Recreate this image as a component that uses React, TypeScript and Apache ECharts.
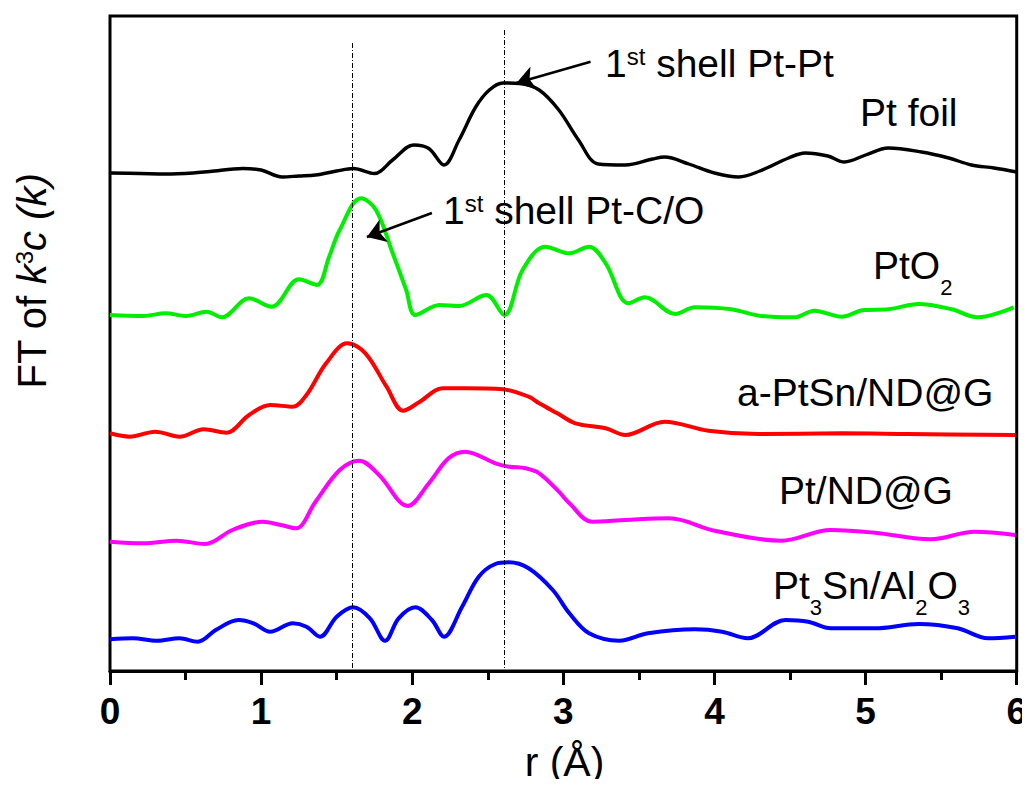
import React, { useEffect, useRef } from "react";
import * as echarts from "echarts";

// ---- data (r in Å, intensity in arbitrary units, stacked offsets included) ----
const foilR = [0, 0.2, 0.37, 0.55, 0.66, 0.88, 1.0, 1.14, 1.25, 1.36, 1.5, 1.61, 1.75, 1.87, 2.01, 2.11, 2.21, 2.31, 2.42, 2.51, 2.6, 2.71, 2.84, 2.97, 3.1, 3.23, 3.41, 3.59, 3.67, 3.83, 4.0, 4.16, 4.3, 4.49, 4.6, 4.75, 4.86, 5.0, 5.15, 5.37, 5.55, 5.7, 5.85, 6.0];
const foilV = [49.8, 49.75, 49.7, 49.8, 49.95, 50.25, 50.1, 49.4, 49.5, 49.6, 50.0, 50.25, 49.75, 51.1, 52.6, 52.25, 50.6, 53.1, 56.4, 58.1, 58.8, 58.75, 58.1, 56.1, 53.1, 50.7, 50.6, 51.2, 51.4, 50.7, 49.8, 49.4, 50.0, 51.3, 51.8, 51.5, 50.9, 51.6, 52.3, 51.9, 51.3, 50.6, 50.3, 49.9];

const pto2R = [0, 0.22, 0.37, 0.5, 0.64, 0.74, 0.92, 1.07, 1.25, 1.37, 1.45, 1.52, 1.66, 1.76, 1.87, 1.96, 2.02, 2.18, 2.31, 2.49, 2.61, 2.73, 2.88, 3.04, 3.17, 3.28, 3.43, 3.54, 3.74, 3.87, 4.11, 4.31, 4.53, 4.66, 4.84, 4.99, 5.15, 5.35, 5.57, 5.74, 5.98];
const pto2V = [35.6, 35.5, 35.77, 35.5, 35.93, 35.37, 37.27, 36.43, 39.17, 38.6, 41.43, 44.1, 47.27, 46.1, 41.8, 38.1, 35.6, 36.6, 36.5, 37.6, 35.6, 40.1, 42.43, 41.77, 42.43, 40.77, 36.77, 37.37, 35.7, 36.37, 36.17, 35.5, 35.37, 36.03, 35.43, 36.1, 36.17, 36.7, 36.17, 35.37, 36.37];

const aPtSnR = [0, 0.13, 0.3, 0.46, 0.62, 0.77, 0.92, 1.06, 1.21, 1.3, 1.43, 1.57, 1.69, 1.83, 1.94, 2.05, 2.2, 2.35, 2.6, 2.77, 2.84, 2.96, 3.08, 3.28, 3.41, 3.67, 3.96, 4.29, 4.84, 5.28, 5.99];
const aPtSnV = [23.77, 23.43, 23.93, 23.43, 24.17, 23.83, 25.6, 26.6, 26.43, 27.6, 30.77, 32.77, 31.77, 28.43, 26.03, 26.93, 28.27, 28.27, 28.17, 27.43, 26.77, 25.77, 24.77, 24.27, 23.6, 24.93, 24.03, 23.7, 23.77, 23.7, 23.6];

const ptNdR = [0, 0.22, 0.44, 0.63, 0.81, 1.01, 1.13, 1.23, 1.36, 1.52, 1.65, 1.78, 1.97, 2.11, 2.24, 2.35, 2.55, 2.64, 2.75, 2.84, 2.97, 3.04, 3.19, 3.41, 3.7, 4.0, 4.44, 4.77, 5.06, 5.43, 5.72, 5.99];
const ptNdV = [12.93, 12.77, 13.03, 12.7, 14.1, 14.93, 14.6, 14.27, 16.93, 20.1, 21.03, 19.6, 16.5, 18.77, 21.27, 21.93, 20.77, 20.43, 20.27, 19.77, 17.93, 16.77, 14.93, 15.1, 15.27, 14.03, 13.03, 14.1, 13.83, 13.17, 13.93, 13.6];

const pt3SnR = [0, 0.15, 0.31, 0.46, 0.58, 0.7, 0.85, 0.95, 1.06, 1.21, 1.3, 1.39, 1.5, 1.61, 1.72, 1.82, 1.91, 2.02, 2.13, 2.21, 2.33, 2.44, 2.55, 2.64, 2.77, 2.93, 3.04, 3.17, 3.37, 3.56, 3.87, 4.05, 4.22, 4.47, 4.62, 4.77, 5.06, 5.35, 5.61, 5.81, 5.99];
const pt3SnV = [3.17, 3.27, 3.03, 3.27, 2.93, 4.1, 5.1, 4.77, 3.93, 4.77, 4.43, 3.43, 5.43, 6.37, 5.27, 3.03, 5.27, 6.37, 5.1, 3.43, 6.43, 9.43, 10.7, 10.87, 10.27, 8.1, 5.77, 3.77, 3.03, 3.77, 4.17, 3.93, 3.27, 5.1, 4.93, 4.27, 4.27, 4.7, 4.27, 3.27, 3.43];

const seriesNames = ["Pt foil", "PtO2", "a-PtSn/ND@G", "Pt/ND@G", "Pt3Sn/Al2O3"];
const xTickLabels = ["0", "1", "2", "3", "4", "5", "6"];

// reference shell positions (Å) and the heights where the guide lines start
const shellR = [1.6, 2.61];
const shellTop = [62.8, 64.1];

// annotation arrows: [fromR, fromV, toR, toV]
const arrowPtPt = [3.18, 60.93, 2.69, 58.8];
const arrowPtCO = [2.13, 45.8, 1.7, 43.4];

const FF = "'Liberation Sans', Arial, sans-serif";

const zip = (r: number[], v: number[]) => r.map((x, i) => [x, v[i]]);

const mainTok = { fontSize: 39, lineHeight: 44, verticalAlign: "top", fontFamily: FF, fill: "#000" };
const supTok = { fontSize: 24, lineHeight: 25, verticalAlign: "top", fontFamily: FF, fill: "#000" };
const subTok = { fontSize: 22, lineHeight: 52, verticalAlign: "bottom", fontFamily: FF, fill: "#000" };

function label(x: number, capMid: number, text: string) {
  return {
    type: "text",
    x,
    y: capMid - 22,
    silent: true,
    style: {
      text,
      align: "left",
      verticalAlign: "top",
      rich: { n: mainTok, s: supTok, b: subTok },
    },
  };
}

export default function App() {
  const ref = useRef<HTMLDivElement>(null);
  useEffect(() => {
    if (!ref.current) return;
    const chart = echarts.init(ref.current, undefined, { renderer: "svg" });
    const colors = ["#000000", "#00ee00", "#ff0000", "#ff00ff", "#0000ff"];
    const datasets = [
      zip(foilR, foilV),
      zip(pto2R, pto2V),
      zip(aPtSnR, aPtSnV),
      zip(ptNdR, ptNdV),
      zip(pt3SnR, pt3SnV),
    ];
    const guideStyle = { color: "#000", width: 1, type: [5, 2, 1, 2] };
    const arrowStyle = { color: "#000", width: 2.5, type: "solid" };
    const series: any[] = datasets.map((d, i) => ({
      name: seriesNames[i],
      type: "line",
      data: d,
      smooth: 0.35,
      symbol: "none",
      lineStyle: { color: colors[i], width: i === 0 ? 3.4 : 4 },
      z: 3,
    }));
    series.push({
      name: "annotations",
      type: "line",
      data: [],
      symbol: "none",
      z: 2,
      markLine: {
        silent: true,
        animation: false,
        symbol: ["none", "none"],
        symbolSize: 18,
        label: { show: false },
        emphasis: { disabled: true },
        data: [
          ...shellR.map((r, i) => [
            { coord: [r, shellTop[i]], lineStyle: guideStyle, symbol: "none" },
            { coord: [r, 0], symbol: "none" },
          ]),
          [
            { coord: [arrowPtPt[0], arrowPtPt[1]], lineStyle: arrowStyle, symbol: "none" },
            { coord: [arrowPtPt[2], arrowPtPt[3]], symbol: "arrow", symbolSize: 18 },
          ],
          [
            { coord: [arrowPtCO[0], arrowPtCO[1]], lineStyle: arrowStyle, symbol: "none" },
            { coord: [arrowPtCO[2], arrowPtCO[3]], symbol: "arrow", symbolSize: 18 },
          ],
        ],
      },
    });

    chart.setOption({
      animation: false,
      backgroundColor: "#ffffff",
      grid: {
        left: 110,
        right: 11,
        top: 16,
        bottom: 116,
        show: true,
        borderColor: "#000",
        borderWidth: 3,
        backgroundColor: "transparent",
      },
      xAxis: {
        type: "value",
        min: 0,
        max: 6,
        interval: 1,
        axisLine: { show: true, lineStyle: { color: "#000", width: 3 } },
        axisTick: { show: true, inside: false, length: 14, lineStyle: { color: "#000", width: 3 } },
        minorTick: { show: true, splitNumber: 2, length: 9, lineStyle: { color: "#000", width: 3 } },
        splitLine: { show: false },
        minorSplitLine: { show: false },
        axisLabel: {
          margin: 22,
          color: "#000",
          fontSize: 37,
          fontWeight: "bold",
          fontFamily: FF,
          formatter: (v: number) => xTickLabels[Math.round(v)] ?? "",
        },
      },
      yAxis: {
        type: "value",
        min: 0,
        max: 65.5,
        show: false,
        splitLine: { show: false },
      },
      series,
      graphic: [
        label(605, 66, "{n|1}{s|st}{n| shell Pt-Pt}"),
        label(443, 213, "{n|1}{s|st}{n| shell Pt-C/O}"),
        label(860, 115, "{n|Pt foil}"),
        label(873, 268, "{n|PtO}{b|2}"),
        label(737, 395, "{n|a-PtSn/ND@G}"),
        label(779, 493, "{n|Pt/ND@G}"),
        label(773, 588, "{n|Pt}{b|3}{n|Sn/Al}{b|2}{n|O}{b|3}"),
        {
          type: "text",
          x: 564.5,
          y: 762,
          silent: true,
          style: {
            text: "r (Å)",
            fontSize: 41,
            fontFamily: FF,
            fill: "#000",
            align: "center",
            verticalAlign: "middle",
          },
        },
        {
          type: "text",
          x: 35,
          y: 281,
          rotation: Math.PI / 2,
          silent: true,
          style: {
            text: "{n|FT of }{i|k}{s|3}{i|c (k)}",
            align: "center",
            verticalAlign: "middle",
            rich: {
              n: { fontSize: 40, lineHeight: 46, verticalAlign: "top", fontFamily: FF, fill: "#000" },
              i: { fontSize: 40, lineHeight: 46, verticalAlign: "top", fontFamily: FF, fontStyle: "italic", fill: "#000" },
              s: { fontSize: 24, lineHeight: 36, verticalAlign: "top", fontFamily: FF, fill: "#000" },
            },
          },
        },
      ],
    });
    return () => chart.dispose();
  }, []);
  return <div ref={ref} style={{ width: 1030, height: 787, margin: -8 }} />;
}
